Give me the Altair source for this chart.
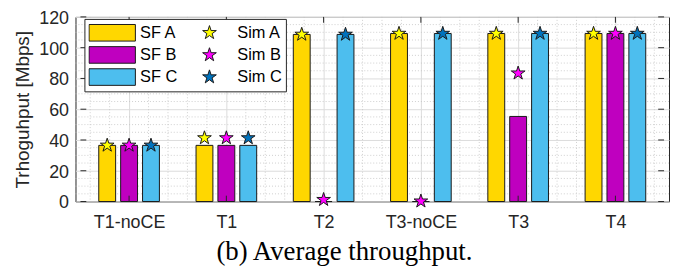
import math
import altair as alt
import pandas as pd

# ---------------- data ----------------
categories = ["T1-noCE", "T1", "T2", "T3-noCE", "T3", "T4"]
sf_a = [36.5, 36.5, 108.6, 109.2, 109.2, 109.2]
sf_b = [36.5, 36.5, 0.0, 0.0, 55.3, 109.2]
sf_c = [36.5, 36.5, 108.6, 109.2, 109.2, 109.2]
sim_a = [36.5, 41.3, 108.6, 109.2, 109.2, 109.2]
sim_b = [36.5, 41.3, 1.2, 0.2, 83.4, 109.2]
sim_c = [36.5, 41.3, 108.6, 109.2, 109.2, 109.2]

bar_names = ["SF A", "SF B", "SF C"]
sim_names = ["Sim A", "Sim B", "Sim C"]
bar_colors = ["#FFD700", "#BF00BF", "#4DBEEE"]
sim_colors = ["#FFFF00", "#FF00FF", "#0072BD"]
y_ticks = [0, 20, 40, 60, 80, 100, 120]

# ---------------- layout helpers ----------------
group_off = 0.225
cat_idx = list(range(1, len(categories) + 1))

bars = []
for k, (nm, vals) in enumerate(zip(bar_names, [sf_a, sf_b, sf_c])):
    for i, v in enumerate(vals):
        bars.append({"pos": cat_idx[i] + (k - 1) * group_off, "value": v, "series": nm})
bars = pd.DataFrame(bars)

stars = []
for k, (nm, vals) in enumerate(zip(sim_names, [sim_a, sim_b, sim_c])):
    for i, v in enumerate(vals):
        stars.append({"pos": cat_idx[i] + (k - 1) * group_off, "value": v, "series": nm})
stars = pd.DataFrame(stars)

# legend order (column-major in a 2-column legend)
leg_domain = bar_names + sim_names
leg_colors = bar_colors + sim_colors

# symbol paths
SYM = 2181  # sqrt -> 46.7 px symbol box
rect_path = "M-1,-0.358H1V0.358H-1Z"
kst = 0.31
pts = []
for j in range(10):
    ang = math.radians(-90 + 36 * j)
    r = 1.0 if j % 2 == 0 else 0.382
    pts.append((kst * r * math.cos(ang), kst * r * math.sin(ang)))
star_path = "M" + "L".join(f"{x:.4f},{y:.4f}" for x, y in pts) + "Z"
leg_shapes = [rect_path] * len(bar_names) + [star_path] * len(sim_names)

xdom = [0.5, len(categories) + 0.5]
ydom = [0, 120]
xscale = alt.Scale(domain=xdom, nice=False, zero=False)
yscale = alt.Scale(domain=ydom, nice=False)

legend = alt.Legend(title=None, orient="none", legendX=9, legendY=2, columns=2)
fill_scale = alt.Scale(domain=leg_domain, range=leg_colors)
shape_scale = alt.Scale(domain=leg_domain, range=leg_shapes)

label_expr = "[" + ",".join(f"'{c}'" for c in categories) + "][datum.value-1]"

xaxis = alt.Axis(
    values=cat_idx, labelExpr=label_expr, title=None, grid=True,
    gridColor="#dcdcdc", ticks=False, domain=False, labelFont="Liberation Sans",
    labelFontSize=18, labelColor="#262626", labelPadding=12)
yaxis = alt.Axis(
    values=y_ticks, title="Trhoguhput [Mbps]", grid=True, gridColor="#dcdcdc",
    ticks=False, domain=False, labelFont="Liberation Sans", labelFontSize=18,
    labelColor="#262626", labelPadding=7, labelOffset=1.5, titleFont="Liberation Sans",
    titleFontSize=19, titleFontWeight="normal", titleColor="#262626",
    titlePadding=6)

EDGE = "#1a1a1a"

# ---------------- grid (minor dotted) ----------------
minor_x = [round(0.6 + 0.2 * i, 2) for i in range(30)]
minor_x = [v for v in minor_x if abs(v - round(v)) > 1e-6 and v < xdom[1]]
minor_y = [v for v in range(5, 120, 5) if v % 20]

gx = alt.Chart(pd.DataFrame({"v": minor_x})).mark_rule(
    color="#c4c4c4", strokeDash=[1, 2], strokeWidth=0.8
).encode(x=alt.X("v:Q", scale=xscale, axis=xaxis))
gy = alt.Chart(pd.DataFrame({"v": minor_y})).mark_rule(
    color="#c4c4c4", strokeDash=[1, 2], strokeWidth=0.8
).encode(y=alt.Y("v:Q", scale=yscale, axis=yaxis))

# ---------------- bars ----------------
bar_layer = alt.Chart(bars).mark_bar(size=17, strokeWidth=1).encode(
    x=alt.X("pos:Q", scale=xscale, axis=xaxis),
    y=alt.Y("value:Q", scale=yscale, axis=yaxis),
    fill=alt.Fill("series:N", scale=fill_scale, legend=legend),
    stroke=alt.value(EDGE),
)

# ---------------- inward ticks ----------------
tick_len_y = 3.8
tick_len_x = 0.06
n = len(cat_idx)
m = len(y_ticks)
tb = pd.DataFrame({"x": cat_idx, "y": [ydom[0]] * n, "y2": [ydom[0] + tick_len_y] * n})
tt = pd.DataFrame({"x": cat_idx, "y": [ydom[1] - tick_len_y] * n, "y2": [ydom[1]] * n})
tl = pd.DataFrame({"y": y_ticks, "x": [xdom[0]] * m, "x2": [xdom[0] + tick_len_x] * m})
tr = pd.DataFrame({"y": y_ticks, "x": [xdom[1] - tick_len_x] * m, "x2": [xdom[1]] * m})

def vtick(df):
    return alt.Chart(df).mark_rule(color="#262626", strokeWidth=1).encode(
        x=alt.X("x:Q", scale=xscale, axis=xaxis),
        y=alt.Y("y:Q", scale=yscale, axis=yaxis), y2="y2:Q")

def htick(df):
    return alt.Chart(df).mark_rule(color="#262626", strokeWidth=1).encode(
        y=alt.Y("y:Q", scale=yscale, axis=yaxis),
        x=alt.X("x:Q", scale=xscale, axis=xaxis), x2="x2:Q")

# ---------------- stars ----------------
star_layer = alt.Chart(stars).mark_point(
    filled=True, size=SYM, strokeWidth=1, opacity=1
).encode(
    x=alt.X("pos:Q", scale=xscale, axis=xaxis),
    y=alt.Y("value:Q", scale=yscale, axis=yaxis),
    fill=alt.Fill("series:N", scale=fill_scale, legend=legend),
    shape=alt.Shape("series:N", scale=shape_scale, legend=legend),
    stroke=alt.value(EDGE),
)

chart = alt.layer(
    gx, gy, bar_layer, vtick(tb), vtick(tt), htick(tl), htick(tr), star_layer
).properties(
    width=598, height=186,
    autosize=alt.AutoSizeParams(type="none"),
    padding={"left": 68, "top": 8, "right": 2, "bottom": 66},
    title=alt.TitleParams(
        "(b) Average throughput.", orient="bottom", anchor="middle",
        font="Liberation Serif", fontSize=27, fontWeight="normal",
        color="black", offset=8, dx=-28),
).configure(
    background="white"
).configure_view(
    stroke="#262626", strokeWidth=1
).configure_legend(
    symbolSize=SYM, clipHeight=20, rowPadding=2.3, columnPadding=8,
    labelOffset=4, padding=4, strokeColor="#262626", fillColor="white",
    labelFont="Liberation Sans", labelFontSize=16.5, labelColor="black",
    symbolStrokeWidth=1, symbolOpacity=1,
)

chart.save("out.html", embed_options={"renderer": "svg", "actions": False})
